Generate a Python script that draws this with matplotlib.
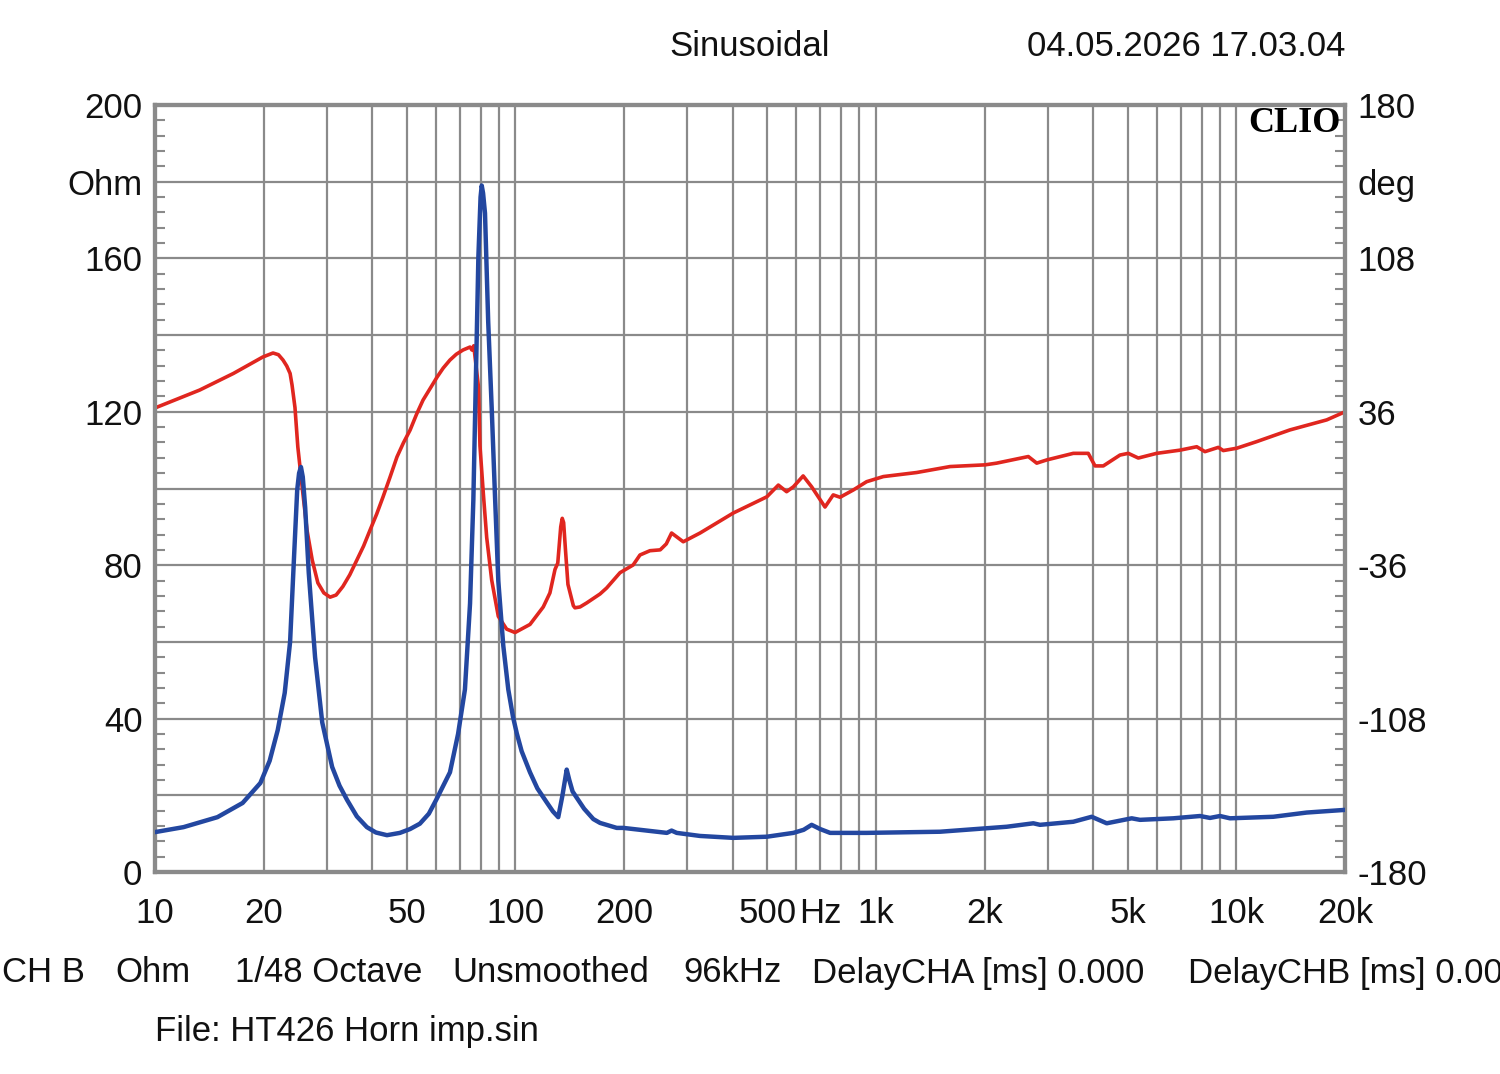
import numpy as np
import matplotlib
matplotlib.use("Agg")
import matplotlib.pyplot as plt
from matplotlib.ticker import MultipleLocator, LogLocator, NullFormatter

plt.rcParams['font.family'] = ['Liberation Sans', 'DejaVu Sans']

# impedance magnitude (Ohm, left axis)
imp_freq = [10, 12, 14.9, 17.5, 19.6, 20.8, 21.9, 22.9, 23.7, 24.3, 24.8, 25.1, 25.4, 25.7,
            26.1, 26.7, 27.8, 29.1, 31.0, 32.5, 34.1, 36.3, 38.7, 41.0, 44.0, 47.8, 51.0,
            54.3, 57.5, 60.4, 65.8, 69.3, 72.4, 74.8, 76.4, 77.2, 78.9, 80.0, 80.6, 81.3,
            82.3, 84.0, 85.9, 87.7, 89.6, 92.5, 95.5, 98.4, 100.8, 104, 109.7, 115, 122,
            127, 131.4, 135, 138.7, 141, 144, 147.8, 155, 164.4, 171.6, 190.9, 199, 263,
            271, 280, 325, 402, 498, 590, 630, 663, 700, 746, 942, 1505, 2305, 2732, 2851,
            3526, 3966, 4365, 5121, 5399, 6677, 7923, 8444, 9000, 9594, 12650, 15655, 20000]
imp_ohm = [10.4, 11.7, 14.3, 18.0, 23.2, 29, 37, 46.7, 60, 82, 99.6, 104, 105.6, 103,
           95, 78, 56, 39, 27.4, 22.5, 18.8, 14.5, 11.7, 10.3, 9.6, 10.2, 11.2,
           12.6, 15.2, 19.0, 26, 36, 47.6, 70, 97, 117.5, 160.5, 176, 179, 177,
           171.8, 143.5, 121, 98.4, 75.9, 59, 47.6, 40.5, 36.2, 31.5, 26, 21.8, 18.2,
           15.8, 14.3, 20, 26.7, 24, 21, 19.4, 16.5, 13.8, 12.8, 11.5, 11.5, 10.2,
           10.8, 10.2, 9.4, 8.9, 9.2, 10.2, 11, 12.3, 11.2, 10.2, 10.2, 10.5, 11.8, 12.7, 12.3,
           13.1, 14.4, 12.7, 14, 13.6, 14, 14.6, 14.1, 14.6, 14, 14.4, 15.5, 16.2]

# impedance phase (deg, right axis)
ph_freq = [10, 13.3, 16.5, 19.9, 21.25, 22.0, 22.65, 23.2, 23.7, 24.0, 24.45, 24.9, 25.6,
           26.4, 27.3, 28.3, 29.4, 30.6, 31.8, 33.2, 34.7, 36.3, 37.9, 39.5, 41.2, 42.9,
           44.8, 46.9, 48.9, 51.0, 53.2, 55.4, 58.0, 60.6, 63.0, 65.8, 68.5, 71.5, 74.8,
           75.7, 76.6, 77.2, 78.9, 79.7, 81.4, 83.2, 85.9, 89.6, 94.5, 99.7, 109.7, 119.4,
           124.6, 128.7, 131, 133.5, 134.8, 136, 137.5, 139.8, 144.7, 146.2, 151, 157.6,
           171.6, 179, 195, 212, 221.5, 236, 252, 262, 271, 292, 325, 402, 498, 536, 565,
           590, 628, 663, 722, 761, 795, 865, 942, 1048, 1297, 1605, 2007, 2161, 2646,
           2792, 2975, 3526, 3880, 4051, 4271, 4752, 5011, 5341, 6006, 6971, 7757, 8178,
           8903, 9193, 10012, 11376, 14073, 17795, 20000]
ph_deg = [37.8, 46.2, 54, 61.7, 63.6, 62.8, 60.3, 57.5, 54, 48.5, 38, 19.5, 0.7,
          -19.5, -33.6, -44.3, -49, -51, -50, -46, -40.5, -33.6, -27, -19.5, -12, -4,
          5, 14.8, 21.5, 27.4, 35, 41.5, 47, 52.3, 56.5, 60.3, 63, 65, 66.4,
          65, 67, 62, 48, 20, -2, -23, -43, -60, -66, -67.6, -63.8, -55.6,
          -49, -38, -35, -18, -14, -16, -28, -45, -55, -56, -55.6, -53.7,
          -49.5, -46.7, -39.5, -35.9, -31.2, -29.2, -28.8, -26, -20.9, -25, -20.9, -11.5, -3.9, 1.6, -1.5,
          0.8, 5.9, 0.8, -8.7, -3, -4.1, -0.7, 3.2, 5.6, 7.5, 10.3, 11.1, 11.9, 15,
          11.9, 13.4, 16.5, 16.5, 10.6, 10.6, 15.7, 16.5, 14.3, 16.5, 18, 19.6, 17.3,
          19.3, 17.8, 18.9, 22, 27.5, 32.2, 36]

x_ticks = [10, 20, 50, 100, 200, 500, 700, 1000, 2000, 5000, 10000, 20000]
x_labels = ['10', '20', '50', '100', '200', '500', 'Hz', '1k', '2k', '5k', '10k', '20k']
ohm_labels = ['0', '', '40', '', '80', '', '120', '', '160', 'Ohm', '200']
deg_labels = ['-180', '', '-108', '', '-36', '', '36', '', '108', 'deg', '180']

W, H = 1500, 1074
fig = plt.figure(figsize=(W / 100, H / 100), dpi=100)
ax = fig.add_axes([155 / W, 1 - 872 / H, 1190 / W, 767 / H])
ax2 = ax.twinx()
ax.set_zorder(ax2.get_zorder() + 1)
ax.patch.set_visible(False)
ax2.patch.set_visible(True)
ax2.patch.set_facecolor('white')

gray = '#8a8a8a'
ax.set_xscale('log')
ax.set_xlim(10, 20000)
ax.set_ylim(0, 200)
ax2.set_ylim(-180, 180)

ax.set_xticks(x_ticks)
ax.set_xticklabels(x_labels)
ax.xaxis.set_minor_locator(LogLocator(base=10, subs=np.arange(2, 10)))
ax.xaxis.set_minor_formatter(NullFormatter())
ax.tick_params(axis='x', which='both', length=0, pad=18, labelsize=25, labelcolor='#111111')

ax.set_yticks(np.arange(0, 201, 20))
ax.set_yticklabels(ohm_labels)
ax.yaxis.set_minor_locator(MultipleLocator(4))
ax.tick_params(axis='y', which='major', length=0, pad=9, labelsize=25, labelcolor='#111111')
ax.tick_params(axis='y', which='minor', direction='in', length=7, width=1.5,
               color=gray, left=True, right=True)

ax2.set_yticks(np.arange(-180, 181, 36))
ax2.set_yticklabels(deg_labels)
ax2.tick_params(axis='y', which='major', length=0, pad=9, labelsize=25, labelcolor='#111111')

# grid on the lower axes so both curves sit above it
ax2.xaxis.set_visible(True)
ax2.tick_params(axis='x', which='both', length=0, labelbottom=False)
ax2.grid(True, which='both', axis='x', color=gray, lw=1.6)
ax2.grid(True, which='major', axis='y', color=gray, lw=1.6)

for a in (ax, ax2):
    for s in a.spines.values():
        s.set_color(gray)
        s.set_linewidth(3)

ax2.plot(ph_freq, ph_deg, color='#e0261f', lw=2.6, zorder=3)
ax.plot(imp_freq, imp_ohm, color='#2347a0', lw=3.2, zorder=4)

ax.text(0.996, 0.976, 'CLIO', transform=ax.transAxes, ha='right', va='center',
        fontsize=26, fontweight='bold', family=['Liberation Serif', 'DejaVu Serif'])


def ftext(x, y, s, ha='left'):
    fig.text(x / W, 1 - y / H, s, ha=ha, va='center', fontsize=25, color='#111111')


ftext(750, 47, 'Sinusoidal', ha='center')
ftext(1345, 47, '04.05.2026 17.03.04', ha='right')
ftext(2, 973, 'CH B')
ftext(115, 973, 'Ohm')
ftext(235, 973, '1/48 Octave')
ftext(452, 973, 'Unsmoothed')
ftext(683, 973, '96kHz')
ftext(812, 973, 'DelayCHA [ms] 0.000')
ftext(1188, 973, 'DelayCHB [ms] 0.000')
ftext(155, 1031, 'File: HT426 Horn imp.sin')

fig.savefig('out.png', dpi=100, facecolor='white')
